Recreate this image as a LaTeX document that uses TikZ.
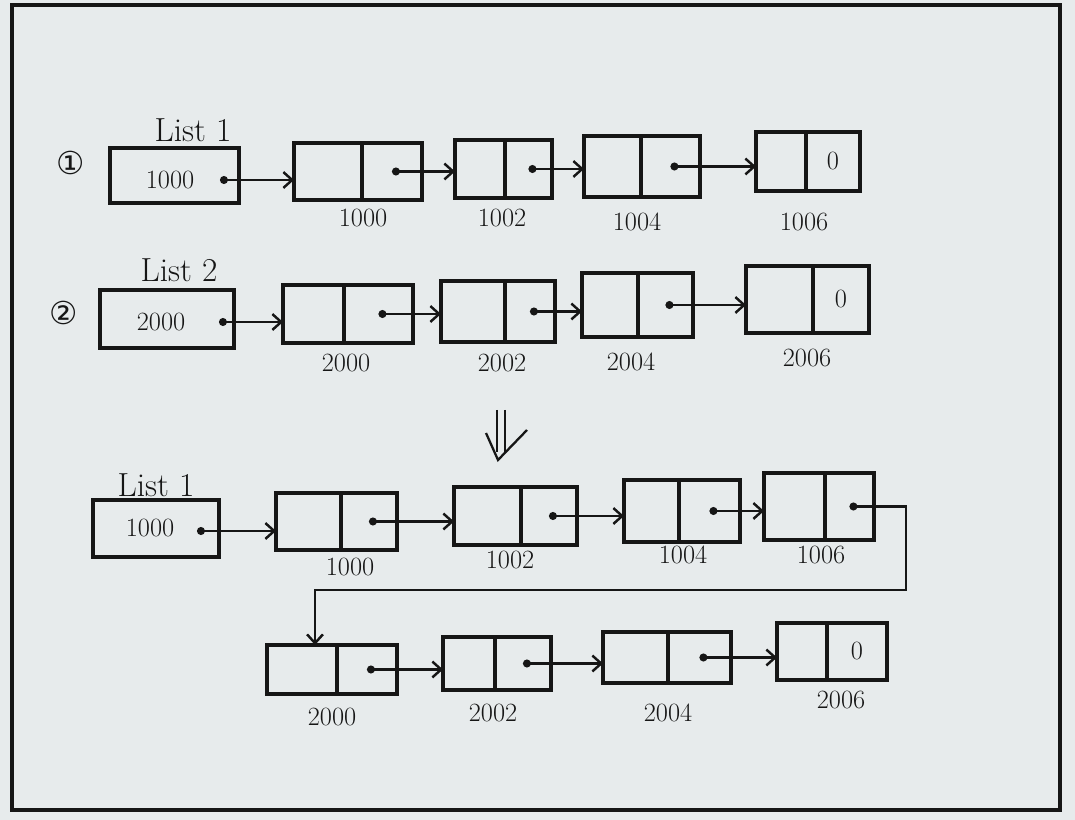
\documentclass[tikz,border=0pt]{standalone}
\usepackage{fontspec}
\usepackage{tikz}
\usetikzlibrary{arrows.meta}
\newfontfamily\symfont{DejaVu Sans}
\definecolor{paper}{RGB}{231,235,236}
\definecolor{ink}{RGB}{22,22,22}

\begin{document}
\begin{tikzpicture}[x=0.02cm,y=-0.02cm,
  cell/.style 2 args={draw=ink,line width=2pt,inner sep=0pt,outer sep=0pt,anchor=north west,minimum width=#1cm,minimum height=#2cm},
  ptr/.style={ink,line width=1.4pt,{Circle[length=4.5pt]}-{Straight Barb[length=5pt,width=9pt]}},
  addr/.style={ink,font=\fontsize{15}{17}\selectfont},
  title/.style={ink,font=\fontsize{19}{21}\selectfont}]
  \fill[paper](0,0)rectangle(1075,820);
  \draw[ink,line width=1.8pt](12,5)rectangle(1060,810);
  % list 1
  \node[ink,font=\symfont\fontsize{18}{18}\selectfont] (one) at (71,163) {①};
  \node[title] (l1) at (193,130) {List 1};
  \node[cell={2.58}{1.1}] (h1) at (110,148) {};
  \node[addr] (h1t) at (170,180) {1000}; \coordinate (h1p) at (220,180);
  \node[cell={1.36}{1.14}] (a1) at (294,143) {}; \node[cell={1.2}{1.14}] (a1p) at (a1.north east) {};
  \node[cell={1.0}{1.16}] (a2) at (455,140) {}; \node[cell={0.94}{1.16}] (a2p) at (a2.north east) {};
  \node[cell={1.14}{1.22}] (a3) at (584,136) {}; \node[cell={1.18}{1.22}] (a3p) at (a3.north east) {};
  \node[cell={1.0}{1.18}] (a4) at (756,132) {}; \node[cell={1.08}{1.18}] (a4p) at (a4.north east) {};
  \node[addr] (a4z) at (a4p.center) {0};
  \node[addr] (a1l) at (363,218) {1000}; \node[addr] (a2l) at (502,218) {1002};
  \node[addr] (a3l) at (637,222) {1004}; \node[addr] (a4l) at (804,222) {1006};
  \draw[ptr](h1p)--(h1p-|a1.west); \draw[ptr](a1p.center)--(a1p.center-|a2.west);
  \draw[ptr](a2p.center)--(a2p.center-|a3.west); \draw[ptr](a3p.center)--(a3p.center-|a4.west);
  % list 2
  \node[ink,font=\symfont\fontsize{18}{18}\selectfont] (two) at (64,313) {②};
  \node[title] (l2) at (179,270) {List 2};
  \node[cell={2.68}{1.16}] (h2) at (100,290) {};
  \node[addr] (h2t) at (161,322) {2000}; \coordinate (h2p) at (219,322);
  \node[cell={1.22}{1.16}] (b1) at (283,285) {}; \node[cell={1.38}{1.16}] (b1p) at (b1.north east) {};
  \node[cell={1.28}{1.22}] (b2) at (441,281) {}; \node[cell={1.0}{1.22}] (b2p) at (b2.north east) {};
  \node[cell={1.12}{1.28}] (b3) at (582,273) {}; \node[cell={1.1}{1.28}] (b3p) at (b3.north east) {};
  \node[cell={1.34}{1.34}] (b4) at (746,266) {}; \node[cell={1.12}{1.34}] (b4p) at (b4.north east) {};
  \node[addr] (b4z) at (b4p.center) {0};
  \node[addr] (b1l) at (346,363) {2000}; \node[addr] (b2l) at (502,363) {2002};
  \node[addr] (b3l) at (631,362) {2004}; \node[addr] (b4l) at (807,358) {2006};
  \draw[ptr](h2p)--(h2p-|b1.west); \draw[ptr](b1p.center)--(b1p.center-|b2.west);
  \draw[ptr](b2p.center)--(b2p.center-|b3.west); \draw[ptr](b3p.center)--(b3p.center-|b4.west);
  % result
  \draw[ink,line width=1.3pt](497,410)--(497,452) (505,410)--(505,452);
  \draw[ink,line width=1.3pt](486,433)--(498,460)--(527,430);
  \node[title] (l3) at (156,485) {List 1};
  \node[cell={2.52}{1.14}] (h3) at (93,500) {};
  \node[addr] (h3t) at (150,528) {1000}; \coordinate (h3p) at (197,531);
  \node[cell={1.3}{1.14}] (c1) at (276,493) {}; \node[cell={1.12}{1.14}] (c1p) at (c1.north east) {};
  \node[cell={1.34}{1.16}] (c2) at (454,487) {}; \node[cell={1.12}{1.16}] (c2p) at (c2.north east) {};
  \node[cell={1.1}{1.24}] (c3) at (624,480) {}; \node[cell={1.22}{1.24}] (c3p) at (c3.north east) {};
  \node[cell={1.22}{1.34}] (c4) at (764,473) {}; \node[cell={0.98}{1.34}] (c4p) at (c4.north east) {};
  \node[addr] (c1l) at (350,567) {1000}; \node[addr] (c2l) at (510,560) {1002};
  \node[addr] (c3l) at (683,555) {1004}; \node[addr] (c4l) at (821,555) {1006};
  \node[cell={1.4}{0.98}] (d1) at (267,645) {}; \node[cell={1.2}{0.98}] (d1p) at (d1.north east) {};
  \node[cell={1.04}{1.06}] (d2) at (443,637) {}; \node[cell={1.12}{1.06}] (d2p) at (d2.north east) {};
  \node[cell={1.3}{1.02}] (d3) at (603,632) {}; \node[cell={1.26}{1.02}] (d3p) at (d3.north east) {};
  \node[cell={1.0}{1.14}] (d4) at (777,623) {}; \node[cell={1.2}{1.14}] (d4p) at (d4.north east) {};
  \node[addr] (d4z) at (d4p.center) {0};
  \node[addr] (d1l) at (332,717) {2000}; \node[addr] (d2l) at (493,713) {2002};
  \node[addr] (d3l) at (668,713) {2004}; \node[addr] (d4l) at (841,700) {2006};
  \draw[ptr](h3p)--(h3p-|c1.west); \draw[ptr](c1p.center)--(c1p.center-|c2.west);
  \draw[ptr](c2p.center)--(c2p.center-|c3.west); \draw[ptr](c3p.center)--(c3p.center-|c4.west);
  \coordinate (turn) at (906,590); \coordinate (link) at (315,590);
  \draw[ptr](c4p.center)--(c4p.center-|turn)--(turn)--(link)--(link|-d1.north);
  \draw[ptr](d1p.center)--(d1p.center-|d2.west); \draw[ptr](d2p.center)--(d2p.center-|d3.west);
  \draw[ptr](d3p.center)--(d3p.center-|d4.west);
\end{tikzpicture}
\end{document}
